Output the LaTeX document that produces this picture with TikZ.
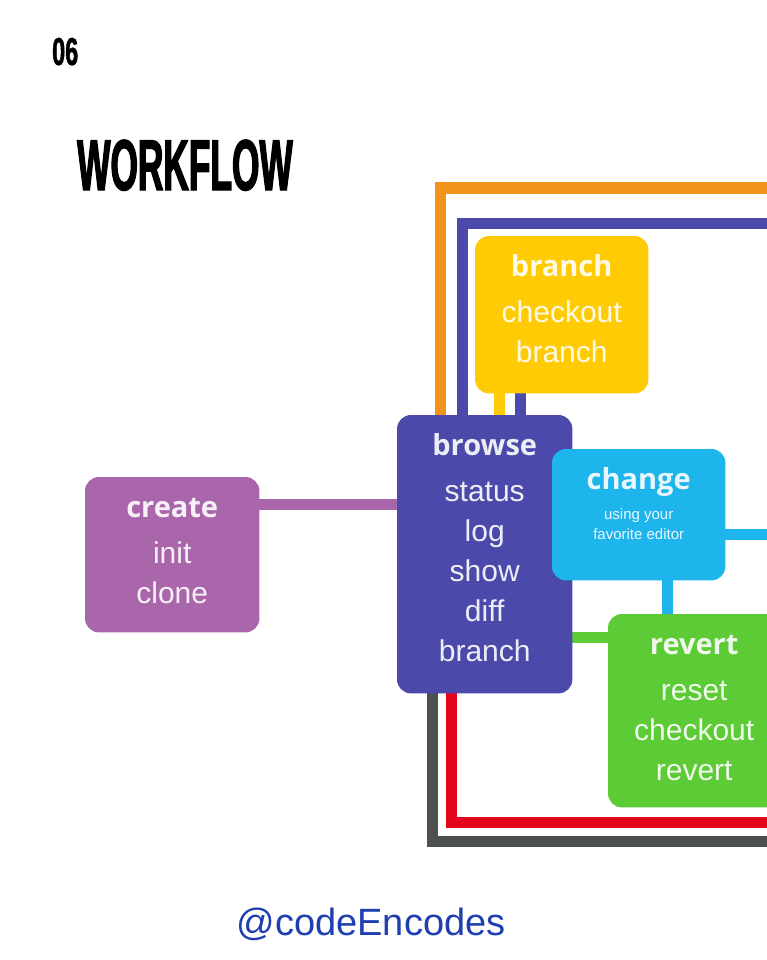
\documentclass[tikz,border=0pt]{standalone}
\usepackage{fontspec}
\setmainfont{Liberation Sans}
\newfontfamily\titlefont{Open Sans}
\newfontfamily\headfont[FakeStretch=0.49,FakeBold=1.6]{Liberation Sans}
\newfontfamily\numfont[FakeStretch=0.6,FakeBold=1.2]{Liberation Sans}
\usetikzlibrary{positioning}

\definecolor{gitorange}{HTML}{F4931C}
\definecolor{gitindigo}{HTML}{4B49A9}
\definecolor{gityellow}{HTML}{FFCB05}
\definecolor{gitcyan}{HTML}{1DB5EC}
\definecolor{gitgreen}{HTML}{5DCB36}
\definecolor{gitred}{HTML}{E3051B}
\definecolor{gitgray}{HTML}{4D514D}
\definecolor{gitmauve}{HTML}{AA66AA}
\definecolor{handleblue}{HTML}{1E3FAE}

\newcommand{\boxtitle}[1]{{\titlefont\bfseries\fontsize{29}{40}\selectfont\rule{0pt}{28pt}#1}}

\tikzset{
  gitbox/.style={rounded corners=14pt, inner sep=0pt, anchor=north west},
  boxtext/.style={text=white, text opacity=0.9, align=center, inner sep=0pt, anchor=north,
    font=\fontsize{30}{40}\selectfont},
  gitline/.style={line width=11pt},
}

\begin{document}
\begin{tikzpicture}[x=1pt,y=-1pt]
    \clip (0,0) rectangle (767,960);
    \fill[white] (0,0) rectangle (767,960);

    % heading
    \node[anchor=base west, inner sep=0pt, font=\numfont\bfseries\fontsize{39}{39}\selectfont] (number) at (52,65) {06};
    \node[anchor=base west, inner sep=0pt, font=\headfont\bfseries\fontsize{72}{72}\selectfont] (heading) at (77,190) {WORKFLOW};

    % boxes
    \node[gitbox, minimum width=175pt, minimum height=278pt] (browse) at (397,415) {};
    \node[gitbox, minimum width=173pt, minimum height=157pt] (branch) at (475,236) {};
    \node[gitbox, minimum width=173pt, minimum height=131pt] (change) at (552,449) {};
    \node[gitbox, minimum width=174pt, minimum height=155pt] (create) at (85,477) {};
    \node[gitbox, minimum width=172pt, minimum height=193pt] (revert) at (608,614) {};

    % outer loops
    \coordinate (orangeend) at (780,188);
    \coordinate (indigoend) at (780,223);
    \coordinate (cyanend) at (780,534);
    \coordinate (redend) at (780,822);
    \coordinate (grayend) at (780,841);

    \draw[gitline, gitorange] ([xshift=43pt]browse.north west) |- (orangeend);
    \draw[gitline, gitindigo] ([xshift=65pt]browse.north west) |- (indigoend);
    \draw[gitline, gitgray] ([xshift=35pt]browse.south west) |- (grayend);
    \draw[gitline, gitred] ([xshift=54pt]browse.south west) |- (redend);

    % links between boxes
    \draw[gitline, gityellow] ([xshift=24pt]branch.south west) coordinate (y1) -- (y1 |- browse.north);
    \draw[gitline, gitindigo] ([xshift=45pt]branch.south west) coordinate (i1) -- (i1 |- browse.north);
    \draw[gitline, gitmauve] ([yshift=-27pt]create.north east) coordinate (m1) -- (m1 -| browse.west);
    \draw[gitline, gitcyan] ([yshift=-85pt]change.north east) -- (cyanend);
    \draw[gitline, gitcyan] ([xshift=115pt]change.south west) coordinate (c1) -- (c1 |- revert.north);
    \draw[gitline, gitgreen] ([yshift=-23pt]revert.north west) coordinate (g1) -- (g1 -| browse.east);

    % box fills
    \fill[gitindigo, rounded corners=14pt] (browse.north west) rectangle (browse.south east);
    \fill[gityellow, rounded corners=14pt] (branch.north west) rectangle (branch.south east);
    \fill[gitcyan, rounded corners=14pt] (change.north west) rectangle (change.south east);
    \fill[gitmauve, rounded corners=14pt] (create.north west) rectangle (create.south east);
    \fill[gitgreen, rounded corners=14pt] (revert.north west) rectangle (revert.south east);

    % box texts
    \node[boxtext, below=12pt of browse.north] (browsetext) {\boxtitle{browse}\\[6pt] status\\ log\\ show\\ diff\\ branch};
    \node[boxtext, below=12pt of branch.north] (branchtext) {\boxtitle{branch}\\[6pt] checkout\\ branch};
    \node[boxtext, below=12pt of create.north] (createtext) {\boxtitle{create}\\[6pt] init\\ clone};
    \node[boxtext, below=12pt of revert.north] (reverttext) {\boxtitle{revert}\\[6pt] reset\\ checkout\\ revert};
    \node[boxtext, below=12pt of change.north, font=\fontsize{15}{20}\selectfont] (changetext) {\boxtitle{change}\\[10pt] using your\\ favorite editor};

    % handle
    \node[anchor=base, inner sep=0pt, text=handleblue, font=\fontsize{38}{38}\selectfont] (handle) at (371,935) {@codeEncodes};
\end{tikzpicture}
\end{document}
